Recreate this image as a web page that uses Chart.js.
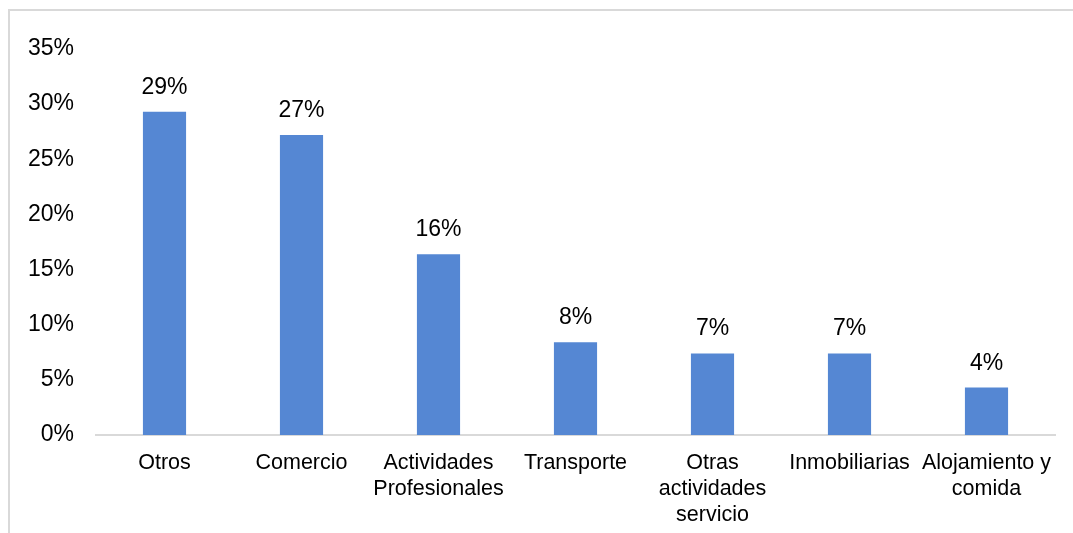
<!DOCTYPE html>
<html>
<head>
<meta charset="utf-8">
<script src="https://cdn.jsdelivr.net/npm/chart.js@4"></script>
<style>
  html, body { margin: 0; padding: 0; background: #fff; }
  #marco { position: absolute; left: 0; top: 0; width: 1073px; height: 533px; }
</style>
</head>
<body>
<div id="marco"><canvas id="grafico" width="1073" height="533"></canvas></div>
<script>
const sectores = [
  'Otros',
  'Comercio',
  ['Actividades', 'Profesionales'],
  'Transporte',
  ['Otras', 'actividades', 'servicio'],
  'Inmobiliarias',
  ['Alojamiento y', 'comida']
];
const porcentajes = [29.3, 27.2, 16.4, 8.4, 7.4, 7.4, 4.3];
const ticksY = [0, 5, 10, 15, 20, 25, 30, 35];

const fuente = "'Liberation Sans', Arial, sans-serif";

// marco gris claro alrededor del gráfico
const marco = {
  id: 'marco',
  beforeDraw(chart) {
    const ctx = chart.ctx;
    ctx.save();
    ctx.strokeStyle = '#d9d9d9';
    ctx.lineWidth = 2;
    ctx.beginPath();
    ctx.moveTo(9, chart.height);
    ctx.lineTo(9, 10);
    ctx.lineTo(chart.width, 10);
    ctx.stroke();
    ctx.restore();
  }
};

// etiquetas con el porcentaje encima de cada barra
const etiquetas = {
  id: 'etiquetas',
  afterDatasetsDraw(chart) {
    const ctx = chart.ctx;
    const meta = chart.getDatasetMeta(0);
    ctx.save();
    ctx.font = '23px ' + fuente;
    ctx.fillStyle = '#000';
    ctx.textAlign = 'center';
    ctx.textBaseline = 'alphabetic';
    meta.data.forEach((barra, i) => {
      ctx.fillText(Math.round(porcentajes[i]) + '%', barra.x, barra.y - 18);
    });
    ctx.restore();
  }
};

new Chart(document.getElementById('grafico'), {
  type: 'bar',
  data: {
    labels: sectores,
    datasets: [{
      data: porcentajes,
      backgroundColor: '#5587d3',
      borderColor: '#5587d3',
      borderWidth: 0,
      barPercentage: 0.63,
      categoryPercentage: 0.5
    }]
  },
  options: {
    responsive: false,
    animation: false,
    layout: { padding: { top: 49, right: 18, left: 0, bottom: 0 } },
    plugins: { legend: { display: false }, tooltip: { enabled: false } },
    scales: {
      x: {
        grid: { display: false, drawTicks: false },
        border: { display: true, color: '#d9d9d9', width: 2 },
        ticks: {
          color: '#000',
          padding: 15,
          maxRotation: 0,
          autoSkip: false,
          font: { family: fuente, size: 21.5, lineHeight: 1.22 }
        },
        afterFit(scale) { scale.height = 98; }
      },
      y: {
        min: 0,
        max: 35,
        afterBuildTicks(scale) { scale.ticks = ticksY.map(v => ({ value: v })); },
        grid: { display: false, drawTicks: false },
        border: { display: false },
        ticks: {
          color: '#000',
          padding: 22,
          font: { family: fuente, size: 23 },
          callback: v => v + '%'
        },
        afterFit(scale) { scale.width = 96; }
      }
    }
  },
  plugins: [marco, etiquetas]
});
</script>
</body>
</html>
